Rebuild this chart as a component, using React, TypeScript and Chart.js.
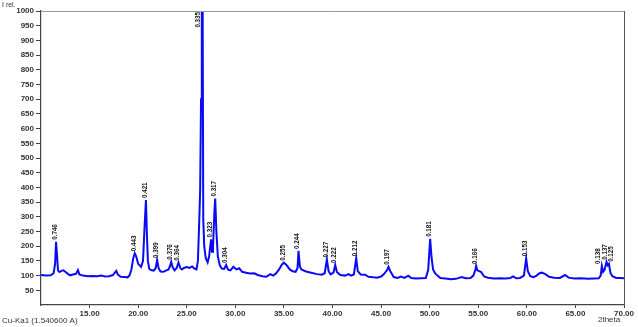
import React, { useEffect, useRef } from 'react';
import { Chart, registerables } from 'chart.js';
Chart.register(...registerables);

const twoTheta = [
  10.0, 10.5, 11.0, 11.3, 11.45, 11.55, 11.65, 11.75, 11.9, 12.1, 12.3, 12.5, 12.8, 13.0, 13.3, 13.6, 13.8, 13.95,
  14.3, 14.8, 15.3, 15.8, 16.2, 16.6, 17.0, 17.4, 17.6, 17.75, 17.9, 18.2, 18.6, 18.9, 19.1, 19.3, 19.5, 19.65,
  19.8, 20.0, 20.3, 20.5, 20.65, 20.8, 20.9, 21.0, 21.15, 21.4, 21.6, 21.8, 21.95, 22.1, 22.3, 22.6, 22.9, 23.1,
  23.25, 23.4, 23.55, 23.75, 23.95, 24.15, 24.35, 24.5, 24.7, 25.0, 25.3, 25.55, 25.8, 26.0, 26.15, 26.3, 26.38,
  26.47, 26.55, 26.62, 26.7, 26.8, 26.95, 27.15, 27.3, 27.5, 27.6, 27.7, 27.85, 27.93, 28.05, 28.2, 28.4, 28.6,
  28.85, 29.05, 29.25, 29.5, 29.8, 30.1, 30.4, 30.7, 31.1, 31.5, 31.95, 32.3, 32.8, 33.2, 33.6, 33.9, 34.2, 34.5,
  34.8, 35.0, 35.3, 35.6, 35.9, 36.2, 36.4, 36.5, 36.65, 36.8, 37.2, 37.8, 38.4, 38.9, 39.2, 39.42, 39.6, 39.8,
  40.1, 40.28, 40.45, 40.8, 41.3, 41.65, 41.9, 42.2, 42.44, 42.6, 42.9, 43.36, 43.7, 44.2, 44.6, 45.0, 45.3, 45.6,
  45.76, 45.95, 46.3, 46.7, 47.04, 47.4, 47.8, 48.1, 48.6, 49.1, 49.6, 49.85, 50.05, 50.2, 50.35, 50.55, 50.8,
  51.1, 51.6, 52.2, 52.7, 53.3, 53.7, 54.2, 54.5, 54.7, 54.78, 54.9, 55.1, 55.3, 55.6, 56.0, 56.6, 57.2, 57.8,
  58.3, 58.6, 58.9, 59.3, 59.7, 59.93, 60.1, 60.35, 60.7, 61.0, 61.3, 61.54, 61.9, 62.3, 62.8, 63.4, 63.94, 64.3,
  64.9, 65.6, 66.3, 66.9, 67.4, 67.6, 67.72, 67.85, 68.0, 68.2, 68.32, 68.45, 68.6, 68.8, 69.2, 69.6, 70.0,
];

const intensity = [
  102, 100, 101, 108, 140, 215, 170, 118, 112, 116, 118, 113, 105, 101, 104, 106, 119, 104,
  100, 98, 99, 98, 100, 97, 98, 102, 110, 116, 104, 96, 95, 94, 100, 120, 160, 176,
  165, 140, 130, 150, 260, 357, 240, 150, 122, 118, 117, 125, 153, 125, 114, 113, 118, 120,
  130, 147, 128, 118, 125, 144, 125, 121, 126, 129, 126, 131, 124, 121, 150, 300, 391,
  700, 1500, 1200, 289, 200, 160, 145, 165, 223, 181, 195, 320, 362, 250, 165, 135, 124,
  123, 136, 120, 118, 130, 121, 125, 113, 110, 107, 108, 102, 98, 96, 105, 100, 108, 121,
  138, 144, 135, 121, 115, 113, 125, 184, 130, 121, 115, 110, 105, 103, 108, 155, 115, 104,
  110, 136, 112, 102, 100, 105, 100, 104, 159, 115, 104, 103, 96, 94, 93, 97, 105, 118,
  130, 115, 95, 92, 97, 92, 100, 92, 90, 91, 92, 120, 225, 160, 121, 108, 100,
  92, 90, 88, 89, 95, 91, 92, 100, 120, 133, 118, 115, 112, 97, 93, 90, 91, 90,
  92, 97, 91, 92, 100, 159, 115, 98, 95, 100, 108, 110, 105, 96, 93, 92, 102, 93,
  90, 91, 89, 90, 91, 100, 133, 113, 120, 147, 135, 140, 110, 98, 92, 92, 91,
];

const peakTheta = [11.55, 19.65, 20.8, 21.95, 23.4, 24.15, 26.55, 27.5, 27.93, 29.05, 35.0, 36.5, 39.42, 40.28, 42.44, 45.76, 50.05, 54.78, 59.93, 67.72, 68.2, 68.45];
const peakLabels = ['0.746', '0.443', '0.421', '0.399', '0.376', '0.364', '0.335', '0.323', '0.317', '0.304', '0.255', '0.244', '0.227', '0.222', '0.212', '0.197', '0.181', '0.166', '0.153', '0.138', '0.137', '0.125'];

const xTickValues = [15, 20, 25, 30, 35, 40, 45, 50, 55, 60, 65, 70];
const yTickValues = [50, 100, 150, 200, 250, 300, 350, 400, 450, 500, 550, 600, 650, 700, 750, 800, 850, 900, 950, 1000];

const yAxisTitle = 'I rel.';
const xAxisTitle = '2theta';
const sourceNote = 'Cu-Ka1 (1.540600 A)';

const LABEL_SCALE = 0.78;
const LABEL_GAP = 6.5;

const overlay = {
  id: 'overlay',
  beforeDraw(chart: any) {
    const { ctx, width, height } = chart;
    ctx.save();
    ctx.fillStyle = '#fff';
    ctx.fillRect(0, 0, width, height);
    ctx.restore();
  },
  afterDatasetsDraw(chart: any) {
    const { ctx, chartArea: a, scales } = chart;
    const x = scales.x;
    const y = scales.y;
    ctx.save();
    ctx.lineWidth = 1;
    ctx.strokeStyle = '#999';
    ctx.beginPath();
    ctx.moveTo(a.left, a.top + 0.5);
    ctx.lineTo(a.right, a.top + 0.5);
    ctx.stroke();
    ctx.strokeStyle = '#555';
    ctx.beginPath();
    ctx.moveTo(a.right + 0.5, a.top);
    ctx.lineTo(a.right + 0.5, a.bottom);
    ctx.stroke();

    ctx.font = 'bold 8px "Liberation Sans", Arial, sans-serif';
    // compute label placements
    const items = peakTheta.map((t, i) => {
      const idx = twoTheta.indexOf(t);
      const v = intensity[idx];
      const px = x.getPixelForValue(t);
      const py = y.getPixelForValue(Math.min(v, y.max));
      const text = peakLabels[i];
      const w = ctx.measureText(text).width * LABEL_SCALE;
      let top: number;
      let bottom: number;
      let ox: number;
      let clipped = false;
      if (py - w - 3 < a.top) {
        clipped = true;
        top = a.top + 1;
        bottom = top + w;
        ox = px - 1.5;
      } else {
        bottom = py - 2;
        top = bottom - w;
        ox = px + 1;
      }
      return { text, ox, top, bottom, clipped };
    });
    // group overlapping neighbours and spread them around their mean
    const groups: any[][] = [];
    items.forEach((it) => {
      const g = groups[groups.length - 1];
      if (g) {
        const last = g[g.length - 1];
        const vOverlap = it.top < last.bottom && it.bottom > last.top;
        if (vOverlap && it.ox - last.ox < LABEL_GAP) {
          g.push(it);
          return;
        }
      }
      groups.push([it]);
    });
    groups.forEach((g) => {
      if (g.length < 2) return;
      const mean = g.reduce((s, it) => s + it.ox, 0) / g.length;
      g.forEach((it, k) => {
        it.ox = mean + (k - (g.length - 1) / 2) * LABEL_GAP;
      });
    });

    ctx.fillStyle = '#111';
    items.forEach((it) => {
      ctx.save();
      ctx.textBaseline = 'alphabetic';
      ctx.translate(it.ox, it.bottom);
      ctx.rotate(-Math.PI / 2);
      ctx.scale(LABEL_SCALE, 1);
      ctx.textAlign = 'left';
      ctx.fillText(it.text, 0, 0);
      ctx.restore();
    });

    ctx.fillStyle = '#333';
    ctx.textBaseline = 'middle';
    ctx.textAlign = 'left';
    ctx.font = '7px "Liberation Sans", Arial, sans-serif';
    ctx.fillText(yAxisTitle, 2, 5);
    ctx.font = '8px "Liberation Sans", Arial, sans-serif';
    ctx.fillText(sourceNote, 2, 321);
    ctx.fillText(xAxisTitle, 598, 320);
    ctx.restore();
  },
};

export default function App() {
  const ref = useRef<HTMLCanvasElement | null>(null);
  useEffect(() => {
    document.body.style.margin = '0';
    const canvas = ref.current;
    if (!canvas) return;
    const points = twoTheta.map((t, i) => ({ x: t, y: intensity[i] }));
    const tickFont = { family: '"Liberation Sans", Arial, sans-serif', size: 8, weight: 'bold' as const };
    const chart = new Chart(canvas, {
      type: 'line',
      data: {
        datasets: [
          {
            data: points,
            borderColor: '#0a0af5',
            borderWidth: 2,
            pointRadius: 0,
            tension: 0,
            fill: false,
          },
        ],
      },
      options: {
        responsive: false,
        animation: false,
        layout: { padding: { top: 11, right: 14, left: 0, bottom: 0 } },
        plugins: { legend: { display: false }, tooltip: { enabled: false } },
        scales: {
          x: {
            type: 'linear',
            min: 10,
            max: 70,
            afterBuildTicks: (s: any) => {
              s.ticks = xTickValues.map((v) => ({ value: v }));
            },
            afterFit: (s: any) => {
              s.height = 22;
            },
            ticks: {
              font: tickFont,
              color: '#333',
              padding: 1,
              maxRotation: 0,
              autoSkip: false,
              callback: (v: any) => Number(v).toFixed(2),
            },
            grid: { drawOnChartArea: false, drawTicks: true, tickLength: 3, color: '#444' },
            border: { color: '#444', width: 1.2 },
          },
          y: {
            type: 'linear',
            min: 0,
            max: 1000,
            afterBuildTicks: (s: any) => {
              s.ticks = yTickValues.map((v) => ({ value: v }));
            },
            afterFit: (s: any) => {
              s.width = 41;
            },
            ticks: {
              font: tickFont,
              color: '#333',
              padding: 2,
              autoSkip: false,
              callback: (v: any) => String(v),
            },
            grid: { drawOnChartArea: false, drawTicks: true, tickLength: 5, color: '#444' },
            border: { color: '#444', width: 1.2 },
          },
        },
      },
      plugins: [overlay],
    });
    return () => chart.destroy();
  }, []);
  return (
    <div style={{ position: 'fixed', left: 0, top: 0, width: 638, height: 327, background: '#fff' }}>
      <canvas ref={ref} width={638} height={327} style={{ display: 'block', width: 638, height: 327 }} />
    </div>
  );
}
